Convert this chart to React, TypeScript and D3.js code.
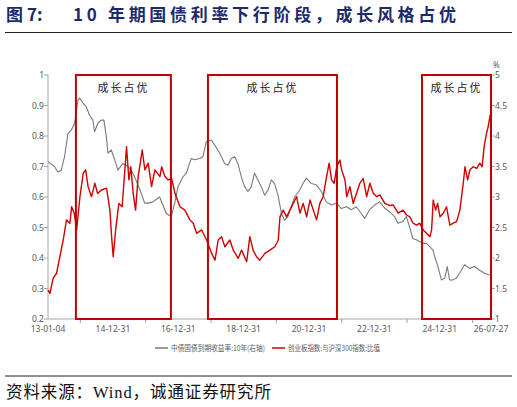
import React from "react";
import * as d3 from "d3";

// ---- data ----
const yieldDates = [
  "2013-01-04","2013-03-17","2013-04-24","2013-06-01","2013-07-08","2013-08-15","2013-09-22","2013-10-29","2013-12-05","2013-12-24",
  "2014-01-30","2014-03-07","2014-04-14","2014-05-20","2014-06-09","2014-07-15","2014-08-22","2014-09-21","2014-10-18","2014-11-05",
  "2014-12-13","2015-01-19","2015-02-25","2015-04-21","2015-06-16","2015-07-23","2015-08-30","2015-10-06","2015-11-13","2015-12-20",
  "2016-01-26","2016-03-21","2016-05-16","2016-06-05","2016-07-11","2016-08-18","2016-10-13","2016-11-20","2016-12-27","2017-02-21",
  "2017-03-30","2017-05-24","2017-07-01","2017-08-26","2017-10-02","2017-11-09","2018-01-05","2018-02-11","2018-04-06","2018-06-01",
  "2018-07-08","2018-08-15","2018-09-22","2018-10-28","2018-12-05","2019-01-11","2019-02-17","2019-03-26","2019-05-02","2019-06-08",
  "2019-07-16","2019-08-22","2019-09-29","2019-11-06","2019-12-12","2020-01-19","2020-02-26","2020-04-02","2020-05-09","2020-06-16",
  "2020-07-23","2020-09-17","2020-10-24","2020-12-01","2021-01-26","2021-03-22","2021-05-17","2021-07-12","2021-09-06","2021-11-02",
  "2021-12-27","2022-02-22","2022-04-17","2022-06-12","2022-08-07","2022-09-13","2022-11-08","2023-01-04","2023-02-28","2023-04-24",
  "2023-06-19","2023-08-14","2023-09-20","2023-11-15","2023-12-23","2024-01-29","2024-03-05","2024-04-13","2024-05-19","2024-06-26",
  "2024-08-03","2024-09-09","2024-10-16","2024-11-05","2024-12-11","2025-01-19","2025-02-25","2025-03-25","2025-04-20","2025-05-27",
  "2025-07-04","2025-08-10","2025-10-05","2025-12-01","2026-01-26","2026-03-21","2026-05-16","2026-07-11"
];
const yieldValues = [
  3.58,3.50,3.41,3.44,3.66,4.04,4.10,4.21,4.59,4.62,
  4.54,4.48,4.34,4.26,4.07,4.21,4.26,4.26,3.99,3.72,
  3.77,3.61,3.44,3.55,3.50,3.44,3.33,3.20,3.06,2.90,
  2.90,2.92,2.98,3.00,2.87,2.73,2.68,2.90,3.17,3.33,
  3.39,3.63,3.61,3.63,3.66,3.91,3.93,3.85,3.72,3.55,
  3.52,3.63,3.66,3.55,3.33,3.17,3.09,3.17,3.39,3.28,
  3.17,3.03,3.11,3.28,3.22,3.03,2.73,2.62,2.68,2.84,
  3.00,3.11,3.22,3.31,3.22,3.20,3.09,2.92,2.87,2.90,
  2.81,2.84,2.79,2.84,2.73,2.65,2.79,2.87,2.92,2.82,
  2.76,2.68,2.57,2.60,2.68,2.51,2.32,2.30,2.27,2.24,
  2.24,2.19,2.13,2.02,1.86,1.64,1.67,1.86,1.64,1.64,
  1.67,1.75,1.89,1.83,1.86,1.80,1.75,1.72
];

const ratioDates = [
  "2013-01-04","2013-01-26","2013-03-02","2013-04-10","2013-05-16","2013-06-23","2013-07-30","2013-09-06","2013-09-25","2013-10-24",
  "2013-11-20","2013-12-27","2014-02-02","2014-03-01","2014-03-28","2014-05-05","2014-06-12","2014-07-12","2014-08-26","2014-10-21",
  "2014-11-27","2014-12-16","2015-01-03","2015-01-30","2015-03-07","2015-04-13","2015-05-05","2015-06-01","2015-06-27","2015-07-19",
  "2015-08-14","2015-09-10","2015-10-09","2015-11-23","2015-12-23","2016-01-29","2016-03-07","2016-04-13","2016-06-08","2016-06-27",
  "2016-08-03","2016-09-09","2016-10-17","2016-11-23","2017-01-18","2017-03-14","2017-05-09","2017-06-15","2017-07-23","2017-09-17",
  "2017-11-12","2018-01-08","2018-02-14","2018-03-21","2018-04-28","2018-06-04","2018-07-30","2018-09-05","2018-10-31","2018-12-08",
  "2019-02-03","2019-03-10","2019-04-16","2019-05-24","2019-06-30","2019-08-25","2019-10-20","2019-12-15","2020-01-22","2020-02-10",
  "2020-03-17","2020-04-24","2020-05-31","2020-07-07","2020-08-14","2020-09-20","2020-10-27","2020-12-04","2021-01-11","2021-02-17",
  "2021-03-25","2021-05-01","2021-06-07","2021-07-15","2021-08-13","2021-09-09","2021-10-08","2021-11-05","2021-12-11","2021-12-30",
  "2022-02-06","2022-02-25","2022-04-02","2022-05-08","2022-06-15","2022-07-22","2022-08-28","2022-10-06","2022-11-11","2022-12-18",
  "2023-01-26","2023-03-03","2023-04-27","2023-06-22","2023-07-29","2023-09-23","2023-11-18","2023-12-26","2024-02-01","2024-03-08",
  "2024-04-16","2024-05-22","2024-06-29","2024-08-06","2024-09-12","2024-10-01","2024-10-19","2024-11-15","2024-12-07","2025-01-03",
  "2025-02-09","2025-03-17","2025-04-23","2025-05-30","2025-07-07","2025-08-13","2025-09-20","2025-10-09","2025-11-08","2025-12-04",
  "2026-01-10","2026-02-17","2026-03-24","2026-04-19","2026-05-11","2026-06-07","2026-06-25","2026-07-14","2026-07-25"
];
const ratioValues = [
  0.295,0.284,0.333,0.350,0.404,0.459,0.525,0.514,0.568,0.547,
  0.492,0.601,0.678,0.689,0.634,0.601,0.645,0.612,0.623,0.629,
  0.557,0.470,0.404,0.492,0.579,0.568,0.656,0.765,0.656,0.699,
  0.612,0.557,0.667,0.754,0.689,0.711,0.634,0.689,0.667,0.699,
  0.667,0.656,0.661,0.612,0.568,0.557,0.525,0.514,0.481,0.492,
  0.459,0.415,0.393,0.459,0.470,0.437,0.459,0.426,0.399,0.426,
  0.388,0.470,0.426,0.404,0.393,0.415,0.426,0.437,0.459,0.535,
  0.557,0.535,0.557,0.579,0.601,0.547,0.579,0.535,0.590,0.557,
  0.525,0.579,0.601,0.667,0.711,0.656,0.645,0.699,0.721,0.689,
  0.656,0.601,0.634,0.579,0.612,0.645,0.661,0.601,0.645,0.612,
  0.601,0.607,0.579,0.572,0.574,0.547,0.557,0.541,0.535,0.514,
  0.508,0.514,0.492,0.481,0.470,0.492,0.590,0.557,0.579,0.535,
  0.547,0.568,0.508,0.514,0.519,0.557,0.645,0.699,0.656,0.689,
  0.699,0.694,0.711,0.699,0.765,0.809,0.830,0.863,0.874
];

const growthPeriods = [
  ["2013-11-12", "2016-10-09"],
  ["2017-11-27", "2021-11-08"],
  ["2024-06-16", "2026-07-27"],
];
const periodLabel = "成长占优";

const xLabelDates = ["2013-01-04","2014-12-31","2016-12-31","2018-12-31","2020-12-31","2022-12-31","2024-12-31","2026-07-27"];
const xTickDates = ["2014-01-01","2016-01-01","2018-01-01","2020-01-01","2022-01-01","2024-01-01","2026-01-01"];
const leftTicks = [0.2,0.3,0.4,0.5,0.6,0.7,0.8,0.9,1];
const rightTicks = [1,1.5,2,2.5,3,3.5,4,4.5,5];
const xDomain = ["2013-01-04", "2026-07-27"];

const titleFig = "图";
const titleNo = "7:";
const titleText = "10 年期国债利率下行阶段，成长风格占优";
const sourceText = "资料来源：Wind，诚通证券研究所";
const legendGray = "中债国债到期收益率:10年(右轴)";
const legendRed = "创业板指数:与沪深300指数:比值";

const parse = d3.timeParse("%Y-%m-%d");
const fmtLabel = d3.timeFormat("%y-%m-%d");

export default function App() {
  const W = 517, H = 407;
  const m = { left: 48, right: 491, top: 75, bottom: 319 };
  const x = d3.scaleTime().domain(xDomain.map((d) => parse(d)!)).range([m.left, m.right]);
  const yL = d3.scaleLinear().domain([0.2, 1]).range([m.bottom, m.top]);
  const yR = d3.scaleLinear().domain([1, 5]).range([m.bottom, m.top]);

  const yieldData = yieldDates.map((d, i) => ({ d: parse(d)!, v: yieldValues[i] }));
  const ratioData = ratioDates.map((d, i) => ({ d: parse(d)!, v: ratioValues[i] }));
  const yieldLine = d3.line<{ d: Date; v: number }>().x((p) => x(p.d)).y((p) => yR(p.v))(yieldData) || "";
  const ratioLine = d3.line<{ d: Date; v: number }>().x((p) => x(p.d)).y((p) => yL(p.v))(ratioData) || "";

  const axisColor = "#a6a6a6";
  const textColor = "#595959";
  const tickFont = "'Noto Sans', 'Open Sans', sans-serif";
  const cjkSans = "'Noto Sans CJK SC', sans-serif";
  const serif = "'Liberation Serif', 'Noto Sans CJK SC', serif";
  const navy = "#1c2a6c";

  return (
    <svg width={W} height={H} viewBox={`0 0 ${W} ${H}`} style={{ position: "absolute", left: 0, top: 0, background: "#fff" }}>
      {/* title */}
      <text x={6} y={21} fontFamily={cjkSans} fontWeight={700} fontSize={17} fill={navy}>{titleFig}</text>
      <text x={27} y={21} fontFamily={cjkSans} fontWeight={700} fontSize={17} fill={navy}>{titleNo}</text>
      <text x={73} y={21} fontFamily={cjkSans} fontWeight={700} fontSize={17} fill={navy} textLength={383} lengthAdjust="spacing">{titleText}</text>
      <line x1={5} x2={512} y1={32.5} y2={32.5} stroke="#222" strokeWidth={1.2} />

      {/* axes */}
      <line x1={m.left} x2={m.left} y1={m.top} y2={m.bottom} stroke={axisColor} />
      <line x1={m.right} x2={m.right} y1={m.top} y2={m.bottom} stroke={axisColor} />
      <line x1={m.left} x2={m.right} y1={m.bottom} y2={m.bottom} stroke={axisColor} />
      {leftTicks.map((t) => (
        <g key={"l" + t}>
          <line x1={m.left - 4} x2={m.left} y1={yL(t)} y2={yL(t)} stroke={axisColor} />
          <text x={m.left - 4} y={yL(t) + 3} textAnchor="end" fontSize={8.5} fontFamily={tickFont} fill={textColor}>{t}</text>
        </g>
      ))}
      {rightTicks.map((t) => (
        <g key={"r" + t}>
          <line x1={m.right} x2={m.right + 4} y1={yR(t)} y2={yR(t)} stroke={axisColor} />
          <text x={m.right + 4} y={yR(t) + 3} textAnchor="start" fontSize={8.5} fontFamily={tickFont} fill={textColor}>{t}</text>
        </g>
      ))}
      <text x={m.right + 2} y={m.top - 7} fontSize={8} fontFamily={tickFont} fill={textColor}>%</text>
      {xTickDates.map((d) => (
        <line key={d} x1={x(parse(d)!)} x2={x(parse(d)!)} y1={m.bottom} y2={m.bottom + 4} stroke={axisColor} />
      ))}
      {xLabelDates.map((d) => (
        <text key={d} x={x(parse(d)!)} y={m.bottom + 13} textAnchor="middle" fontSize={8.5} fontFamily={tickFont} fill={textColor}>{fmtLabel(parse(d)!)}</text>
      ))}

      {/* lines */}
      <path d={yieldLine} fill="none" stroke="#7a7a7a" strokeWidth={1.1} strokeLinejoin="round" />
      <path d={ratioLine} fill="none" stroke="#d00000" strokeWidth={1.4} strokeLinejoin="round" />

      {/* growth periods */}
      {growthPeriods.map(([a, b]) => {
        const x0 = x(parse(a)!), x1 = x(parse(b)!);
        return (
          <g key={a}>
            <rect x={x0} y={m.top} width={x1 - x0} height={m.bottom - m.top} fill="none" stroke="#c00000" strokeWidth={2} />
            <text x={(x0 + x1) / 2} y={m.top + 17} textAnchor="middle" fontSize={11} letterSpacing={2} fontFamily={serif} fill="#222">{periodLabel}</text>
          </g>
        );
      })}

      {/* legend */}
      <line x1={155} x2={168} y1={348} y2={348} stroke="#7a7a7a" strokeWidth={1.5} />
      <text x={171} y={351} fontSize={7.5} fontFamily={cjkSans} fill={textColor} textLength={94} lengthAdjust="spacingAndGlyphs">{legendGray}</text>
      <line x1={272} x2={285} y1={348} y2={348} stroke="#d00000" strokeWidth={1.5} />
      <text x={288} y={351} fontSize={7.5} fontFamily={cjkSans} fill={textColor} textLength={92} lengthAdjust="spacingAndGlyphs">{legendRed}</text>

      {/* source */}
      <line x1={5} x2={512} y1={376} y2={376} stroke="#222" strokeWidth={1.2} />
      <text x={6} y={398} fontSize={16.5} letterSpacing={0.9} fontFamily={serif} fill="#111">{sourceText}</text>
    </svg>
  );
}
